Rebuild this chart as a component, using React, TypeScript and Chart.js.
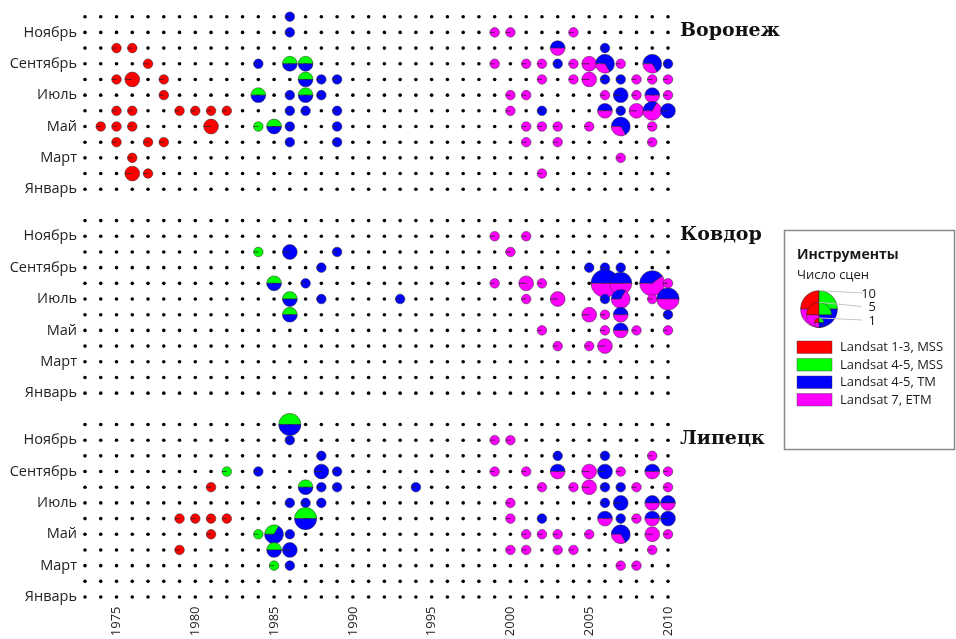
import React, { useEffect, useRef } from 'react';
import { Chart, registerables } from 'chart.js';

Chart.register(...registerables);

// ---------- data ----------
const YEARS = [
  1973, 1974, 1975, 1976, 1977, 1978, 1979, 1980, 1981, 1982, 1983, 1984, 1985,
  1986, 1987, 1988, 1989, 1990, 1991, 1992, 1993, 1994, 1995, 1996, 1997, 1998,
  1999, 2000, 2001, 2002, 2003, 2004, 2005, 2006, 2007, 2008, 2009, 2010,
];
const MONTHS = [1, 2, 3, 4, 5, 6, 7, 8, 9, 10, 11, 12];
const MONTH_NAMES = [
  'Январь', 'Февраль', 'Март', 'Апрель', 'Май', 'Июнь',
  'Июль', 'Август', 'Сентябрь', 'Октябрь', 'Ноябрь', 'Декабрь',
];
const LABELED_MONTHS = [1, 3, 5, 7, 9, 11];
const X_TICKS = [1975, 1980, 1985, 1990, 1995, 2000, 2005, 2010];

const INSTRUMENTS = ['Landsat 1-3, MSS', 'Landsat 4-5, MSS', 'Landsat 4-5, TM', 'Landsat 7, ETM'];
const COLORS = ['#ff0000', '#00ff00', '#0000ff', '#ff00ff'];
const SIZE_LEGEND = [10, 5, 1];

const SITES = ['Воронеж', 'Ковдор', 'Липецк'];
const SITE_OFFSETS = [26, 13, 0];

// [year, month, Landsat 1-3 MSS, Landsat 4-5 MSS, Landsat 4-5 TM, Landsat 7 ETM]
const VORONEZH = [
  [1986, 12, 0, 0, 1, 0],
  [1986, 11, 0, 0, 1, 0], [1999, 11, 0, 0, 0, 1], [2000, 11, 0, 0, 0, 1], [2004, 11, 0, 0, 0, 1],
  [1975, 10, 1, 0, 0, 0], [1976, 10, 1, 0, 0, 0], [2003, 10, 0, 0, 1, 1], [2006, 10, 0, 0, 1, 0],
  [1977, 9, 1, 0, 0, 0], [1984, 9, 0, 0, 1, 0], [1986, 9, 0, 1, 1, 0], [1987, 9, 0, 1, 1, 0],
  [1999, 9, 0, 0, 0, 1], [2001, 9, 0, 0, 0, 1], [2002, 9, 0, 0, 0, 1], [2003, 9, 0, 0, 1, 0],
  [2004, 9, 0, 0, 0, 1], [2005, 9, 0, 0, 0, 2], [2006, 9, 0, 0, 2, 1], [2007, 9, 0, 0, 0, 1],
  [2009, 9, 0, 0, 2, 1], [2010, 9, 0, 0, 1, 0],
  [1975, 8, 1, 0, 0, 0], [1976, 8, 2, 0, 0, 0], [1978, 8, 1, 0, 0, 0], [1987, 8, 0, 1, 1, 0],
  [1988, 8, 0, 0, 1, 0], [1989, 8, 0, 0, 1, 0], [2002, 8, 0, 0, 0, 1], [2004, 8, 0, 0, 0, 1],
  [2005, 8, 0, 0, 0, 2], [2006, 8, 0, 0, 1, 0], [2007, 8, 0, 0, 1, 0], [2008, 8, 0, 0, 0, 1],
  [2009, 8, 0, 0, 0, 1], [2010, 8, 0, 0, 0, 1],
  [1978, 7, 1, 0, 0, 0], [1984, 7, 0, 1, 1, 0], [1986, 7, 0, 0, 1, 0], [1987, 7, 0, 1, 1, 0],
  [1988, 7, 0, 0, 1, 0], [2000, 7, 0, 0, 0, 1], [2001, 7, 0, 0, 0, 1], [2006, 7, 0, 0, 0, 1],
  [2007, 7, 0, 0, 2, 0], [2008, 7, 0, 0, 0, 1], [2009, 7, 0, 0, 1, 1], [2010, 7, 0, 0, 0, 1],
  [1975, 6, 1, 0, 0, 0], [1976, 6, 1, 0, 0, 0], [1979, 6, 1, 0, 0, 0], [1980, 6, 1, 0, 0, 0],
  [1981, 6, 1, 0, 0, 0], [1982, 6, 1, 0, 0, 0], [1986, 6, 0, 0, 1, 0], [1987, 6, 0, 0, 1, 0],
  [1989, 6, 0, 0, 1, 0], [2000, 6, 0, 0, 0, 1], [2002, 6, 0, 0, 1, 0], [2006, 6, 0, 0, 1, 1],
  [2007, 6, 0, 0, 1, 0], [2008, 6, 0, 0, 0, 2], [2009, 6, 0, 0, 1, 2], [2010, 6, 0, 0, 2, 0],
  [1974, 5, 1, 0, 0, 0], [1975, 5, 1, 0, 0, 0], [1976, 5, 1, 0, 0, 0], [1981, 5, 2, 0, 0, 0],
  [1984, 5, 0, 1, 0, 0], [1985, 5, 0, 1, 1, 0], [1986, 5, 0, 0, 1, 0], [1989, 5, 0, 0, 1, 0],
  [2001, 5, 0, 0, 0, 1], [2002, 5, 0, 0, 0, 1], [2003, 5, 0, 0, 0, 1], [2005, 5, 0, 0, 0, 1],
  [2007, 5, 0, 0, 2, 1], [2009, 5, 0, 0, 0, 1],
  [1975, 4, 1, 0, 0, 0], [1977, 4, 1, 0, 0, 0], [1978, 4, 1, 0, 0, 0], [1986, 4, 0, 0, 1, 0],
  [1989, 4, 0, 0, 1, 0], [2001, 4, 0, 0, 0, 1], [2003, 4, 0, 0, 0, 1], [2009, 4, 0, 0, 0, 1],
  [1976, 3, 1, 0, 0, 0], [2007, 3, 0, 0, 0, 1],
  [1976, 2, 2, 0, 0, 0], [1977, 2, 1, 0, 0, 0], [2002, 2, 0, 0, 0, 1],
];

const KOVDOR = [
  [1999, 11, 0, 0, 0, 1], [2001, 11, 0, 0, 0, 1],
  [1984, 10, 0, 1, 0, 0], [1986, 10, 0, 0, 2, 0], [1989, 10, 0, 0, 1, 0], [2000, 10, 0, 0, 0, 1],
  [1988, 9, 0, 0, 1, 0], [2005, 9, 0, 0, 1, 0], [2006, 9, 0, 0, 1, 0], [2007, 9, 0, 0, 1, 0],
  [1985, 8, 0, 1, 1, 0], [1987, 8, 0, 0, 1, 0], [1999, 8, 0, 0, 0, 1], [2001, 8, 0, 0, 0, 2],
  [2002, 8, 0, 0, 0, 1], [2006, 8, 0, 0, 3, 3], [2007, 8, 0, 0, 2, 2], [2009, 8, 0, 0, 2, 3],
  [2010, 8, 0, 0, 0, 1],
  [1986, 7, 0, 1, 1, 0], [1988, 7, 0, 0, 1, 0], [1993, 7, 0, 0, 1, 0], [2001, 7, 0, 0, 0, 1],
  [2003, 7, 0, 0, 0, 2], [2006, 7, 0, 0, 1, 0], [2007, 7, 0, 0, 1, 2], [2009, 7, 0, 0, 0, 1],
  [2010, 7, 0, 0, 2, 2],
  [1986, 6, 0, 1, 1, 0], [2005, 6, 0, 0, 0, 2], [2006, 6, 0, 0, 0, 1], [2007, 6, 0, 0, 1, 1],
  [2010, 6, 0, 0, 1, 0],
  [2002, 5, 0, 0, 0, 1], [2006, 5, 0, 0, 0, 1], [2007, 5, 0, 0, 1, 1], [2008, 5, 0, 0, 0, 1],
  [2010, 5, 0, 0, 0, 1],
  [2003, 4, 0, 0, 0, 1], [2005, 4, 0, 0, 0, 1], [2006, 4, 0, 0, 0, 2],
];

const LIPETSK = [
  [1986, 12, 0, 2, 2, 0],
  [1986, 11, 0, 0, 1, 0], [1999, 11, 0, 0, 0, 1], [2000, 11, 0, 0, 0, 1],
  [1988, 10, 0, 0, 1, 0], [2003, 10, 0, 0, 1, 0], [2006, 10, 0, 0, 1, 0], [2009, 10, 0, 0, 0, 1],
  [1982, 9, 0, 1, 0, 0], [1984, 9, 0, 0, 1, 0], [1988, 9, 0, 0, 2, 0], [1989, 9, 0, 0, 1, 0],
  [1999, 9, 0, 0, 0, 1], [2001, 9, 0, 0, 0, 1], [2003, 9, 0, 0, 1, 1], [2005, 9, 0, 0, 0, 2],
  [2006, 9, 0, 0, 2, 0], [2007, 9, 0, 0, 0, 1], [2009, 9, 0, 0, 1, 1], [2010, 9, 0, 0, 0, 1],
  [1981, 8, 1, 0, 0, 0], [1987, 8, 0, 1, 1, 0], [1988, 8, 0, 0, 1, 0], [1989, 8, 0, 0, 1, 0],
  [1994, 8, 0, 0, 1, 0], [2002, 8, 0, 0, 0, 1], [2004, 8, 0, 0, 0, 1], [2005, 8, 0, 0, 0, 2],
  [2006, 8, 0, 0, 1, 0], [2007, 8, 0, 0, 1, 0], [2008, 8, 0, 0, 0, 1], [2010, 8, 0, 0, 0, 1],
  [1986, 7, 0, 0, 1, 0], [1987, 7, 0, 0, 1, 0], [1988, 7, 0, 0, 1, 0], [2000, 7, 0, 0, 0, 1],
  [2006, 7, 0, 0, 1, 0], [2007, 7, 0, 0, 2, 0], [2009, 7, 0, 0, 1, 1], [2010, 7, 0, 0, 1, 1],
  [1979, 6, 1, 0, 0, 0], [1980, 6, 1, 0, 0, 0], [1981, 6, 1, 0, 0, 0], [1982, 6, 1, 0, 0, 0],
  [1987, 6, 0, 2, 2, 0], [2000, 6, 0, 0, 0, 1], [2002, 6, 0, 0, 1, 0], [2006, 6, 0, 0, 1, 1],
  [2007, 6, 0, 0, 1, 0], [2008, 6, 0, 0, 0, 1], [2009, 6, 0, 0, 1, 1], [2010, 6, 0, 0, 2, 0],
  [1981, 5, 1, 0, 0, 0], [1984, 5, 0, 1, 0, 0], [1985, 5, 0, 1, 2, 0], [1986, 5, 0, 0, 1, 0],
  [2001, 5, 0, 0, 0, 1], [2002, 5, 0, 0, 0, 1], [2003, 5, 0, 0, 0, 1], [2005, 5, 0, 0, 0, 1],
  [2007, 5, 0, 0, 2, 1], [2009, 5, 0, 0, 0, 2], [2010, 5, 0, 0, 0, 1],
  [1979, 4, 1, 0, 0, 0], [1985, 4, 0, 1, 1, 0], [1986, 4, 0, 0, 2, 0], [2000, 4, 0, 0, 0, 1],
  [2001, 4, 0, 0, 0, 1], [2003, 4, 0, 0, 0, 1], [2004, 4, 0, 0, 0, 1], [2009, 4, 0, 0, 0, 1],
  [1985, 3, 0, 1, 0, 0], [1986, 3, 0, 0, 1, 0], [2007, 3, 0, 0, 0, 1], [2008, 3, 0, 0, 0, 1],
];

const SITE_DATA = [VORONEZH, KOVDOR, LIPETSK];

// ---------- helpers ----------
const radiusFor = (n: number) => 6.3 * Math.sqrt(n) - 1.5;
const FONT_SANS = '"Open Sans", "Noto Sans", sans-serif';

function drawPie(ctx: CanvasRenderingContext2D, cx: number, cy: number, r: number, counts: number[]) {
  const n = counts.reduce((a, b) => a + b, 0);
  if (!n) return;
  let a = Math.PI;
  counts.forEach((c, i) => {
    if (!c) return;
    const span = (2 * Math.PI * c) / n;
    ctx.beginPath();
    ctx.moveTo(cx, cy);
    ctx.arc(cx, cy, r, a, a + span);
    ctx.closePath();
    ctx.fillStyle = COLORS[i];
    ctx.fill();
    ctx.lineWidth = 0.6;
    ctx.strokeStyle = 'rgba(40,40,40,0.85)';
    ctx.stroke();
    a += span;
  });
}

const piePlugin = {
  id: 'scenePies',
  afterDatasetsDraw(chart: any) {
    const { ctx, scales } = chart;
    const xs = scales.x;
    const ys = scales.y;
    ctx.save();
    SITE_DATA.forEach((rows, si) => {
      const sorted = [...rows].sort((p, q) => (p[0] - q[0]) || (q[1] - p[1]));
      sorted.forEach((row) => {
        const counts = row.slice(2);
        const n = counts.reduce((a, b) => a + b, 0);
        const cx = xs.getPixelForValue(row[0]);
        const cy = ys.getPixelForValue(SITE_OFFSETS[si] + row[1] - 1);
        drawPie(ctx, cx, cy, radiusFor(n), counts);
      });
    });
    ctx.restore();
  },
  afterDraw(chart: any) {
    const { ctx, chartArea, scales } = chart;
    const ys = scales.y;
    ctx.save();
    // site titles
    ctx.fillStyle = '#111';
    ctx.font = 'bold 19px "DejaVu Serif", "Liberation Serif", serif';
    ctx.textAlign = 'left';
    ctx.textBaseline = 'alphabetic';
    SITES.forEach((name, si) => {
      ctx.fillText(name, chartArea.right + 7, ys.getPixelForValue(SITE_OFFSETS[si] + 9.75));
    });

    // legend box
    const bx = 784.5, by = 230.5, bw = 170, bh = 219;
    ctx.strokeStyle = '#8a8a8a';
    ctx.lineWidth = 1.5;
    ctx.strokeRect(bx, by, bw, bh);

    ctx.fillStyle = '#1a1a1a';
    ctx.textBaseline = 'middle';
    ctx.font = `bold 14px ${FONT_SANS}`;
    ctx.fillText('Инструменты', 797, 255);
    ctx.font = `13px ${FONT_SANS}`;
    ctx.fillText('Число сцен', 797, 275);

    // size legend (nested pies)
    const ccx = 819, cbottom = 327.5;
    const labelYs = [294, 307.5, 321];
    SIZE_LEGEND.forEach((n, i) => {
      const r = radiusFor(n);
      drawPie(ctx, ccx, cbottom - r, r, [1, 1, 1, 1]);
      void i;
    });
    SIZE_LEGEND.forEach((n, i) => {
      const r = radiusFor(n);
      ctx.beginPath();
      ctx.moveTo(ccx, cbottom - 2 * r);
      ctx.lineTo(862, labelYs[i] - 1);
      ctx.strokeStyle = '#c4c4c4';
      ctx.lineWidth = 1;
      ctx.stroke();
      ctx.fillStyle = '#1a1a1a';
      ctx.font = `13px ${FONT_SANS}`;
      ctx.textAlign = 'right';
      ctx.fillText(String(n), 876, labelYs[i]);
    });

    // instrument swatches
    const swY = [341, 358.5, 376, 393.5];
    INSTRUMENTS.forEach((name, i) => {
      ctx.fillStyle = COLORS[i];
      ctx.fillRect(797, swY[i], 35, 12.5);
      ctx.strokeStyle = 'rgba(60,60,60,0.7)';
      ctx.lineWidth = 0.6;
      ctx.strokeRect(797, swY[i], 35, 12.5);
      ctx.fillStyle = '#1a1a1a';
      ctx.font = `13px ${FONT_SANS}`;
      ctx.textAlign = 'left';
      ctx.fillText(name, 840, swY[i] + 6.5);
    });
    ctx.restore();
  },
};

export default function App() {
  const canvasRef = useRef<HTMLCanvasElement | null>(null);

  useEffect(() => {
    const canvas = canvasRef.current;
    if (!canvas) return;

    const dots: { x: number; y: number }[] = [];
    SITE_OFFSETS.forEach((off) => {
      YEARS.forEach((yr) => {
        MONTHS.forEach((m) => dots.push({ x: yr, y: off + m - 1 }));
      });
    });

    const yTicks: number[] = [];
    SITE_OFFSETS.forEach((off) => LABELED_MONTHS.forEach((m) => yTicks.push(off + m - 1)));

    const chart = new Chart(canvas, {
      type: 'scatter',
      data: {
        datasets: [
          {
            data: dots,
            pointRadius: 1.8,
            pointBackgroundColor: '#000',
            pointBorderWidth: 0,
            borderWidth: 0,
          },
        ],
      },
      options: {
        responsive: false,
        animation: false,
        events: [],
        layout: { padding: { top: 10, right: 283, bottom: 0, left: 0 } },
        plugins: { legend: { display: false }, tooltip: { enabled: false } },
        scales: {
          x: {
            type: 'linear',
            min: 1972.683,
            max: 2010.317,
            afterBuildTicks: (axis: any) => {
              axis.ticks = X_TICKS.map((v) => ({ value: v }));
            },
            afterFit: (axis: any) => {
              axis.height = 37.5;
            },
            grid: { display: false, drawTicks: false },
            border: { display: false },
            ticks: {
              autoSkip: false,
              minRotation: 90,
              maxRotation: 90,
              padding: 5,
              color: '#222',
              font: { family: FONT_SANS, size: 13 },
              callback: (v: any) => String(v),
            },
          },
          y: {
            type: 'linear',
            min: -0.286,
            max: 37.32,
            afterBuildTicks: (axis: any) => {
              axis.ticks = yTicks.map((v) => ({ value: v }));
            },
            afterFit: (axis: any) => {
              axis.width = 80;
            },
            grid: { display: false, drawTicks: false },
            border: { display: false },
            ticks: {
              autoSkip: false,
              padding: 3,
              color: '#222',
              font: { family: FONT_SANS, size: 14.5 },
              callback: (v: any) => {
                const m = (Math.round(Number(v)) % 13) + 1;
                return MONTH_NAMES[m - 1];
              },
            },
          },
        },
      },
      plugins: [piePlugin],
    } as any);

    return () => chart.destroy();
  }, []);

  return (
    <div style={{ position: 'absolute', left: 0, top: 0, width: 956, height: 639, background: '#fff' }}>
      <canvas ref={canvasRef} width={956} height={639} style={{ display: 'block' }} />
    </div>
  );
}
